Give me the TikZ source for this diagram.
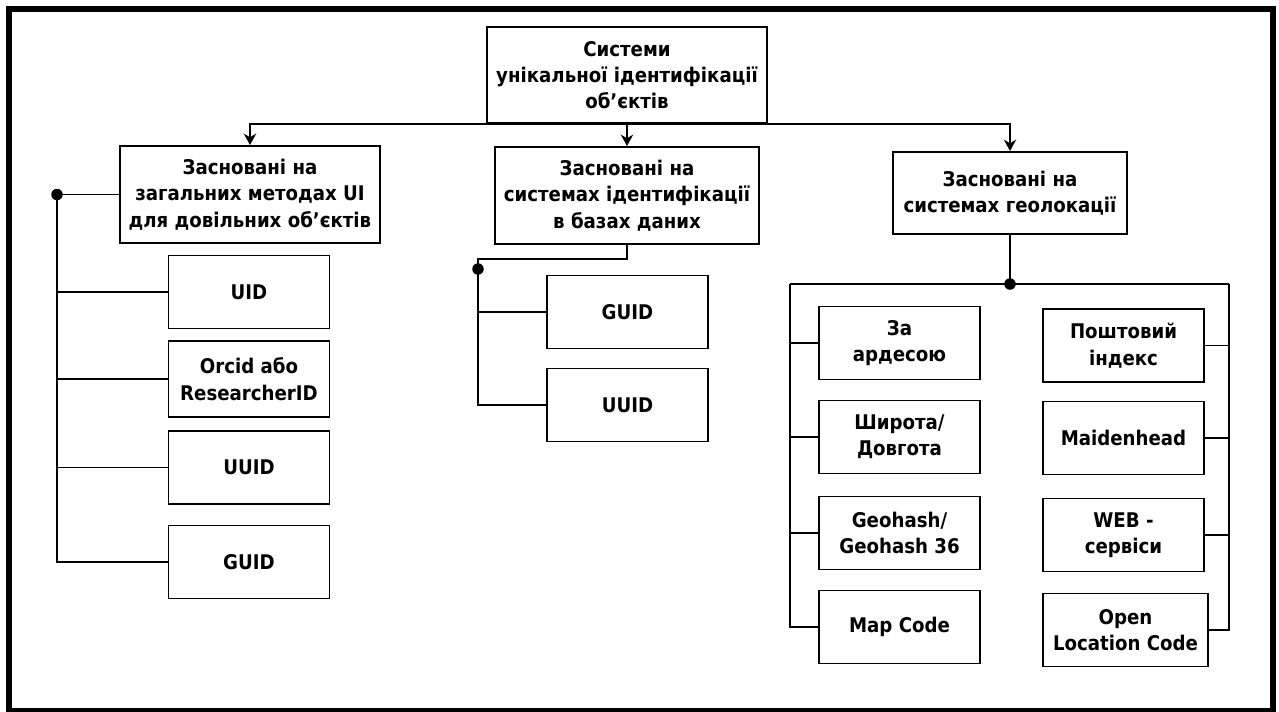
\documentclass[tikz,border=0pt]{standalone}
\usepackage{fontspec}
\setmainfont{DejaVu Sans Condensed}
\usetikzlibrary{arrows.meta,positioning}
\tikzset{>={Stealth[length=6.5pt,width=7pt]}}
\tikzset{
  blok/.style={draw,line width=1.1pt,align=center,inner sep=0pt,
    font=\bfseries\fontsize{11.5}{15}\selectfont},
  kid/.style={blok,minimum width=3.22cm,minimum height=1.46cm},
  vuzol/.style={circle,fill,inner sep=0pt,minimum size=0.23cm}
}

\begin{document}
\begin{tikzpicture}[x=0.02cm,y=-0.02cm,line width=1.1pt]
		\useasboundingbox (0,0) rectangle (1279,711);
		\draw [line width=3.4pt] (9,9) rectangle (1273,711);
		% top level
		\node [blok,minimum width=5.6cm,minimum height=1.92cm] (sys) at (627,75) {Системи\\унікальної ідентифікації\\об’єктів};
		\node [blok,minimum width=5.2cm,minimum height=1.94cm] (zag) at (250,194.5) {Засновані на\\загальних методах UI\\для довільних об’єктів};
		\node [blok,minimum width=5.28cm,minimum height=1.94cm] (baz) at (627,195.5) {Засновані на\\системах ідентифікації\\в базах даних};
		\node [blok,minimum width=4.68cm,minimum height=1.64cm] (geo) at (1010,193) {Засновані на\\системах геолокації};
		\draw [->] (sys.south) -| (zag.north);
		\draw [->] (sys.south) -- (baz.north);
		\draw [->] (sys.south) -| (geo.north);
		% general methods
		\node [kid] (uid) at (249,292) {UID};
		\node [kid,minimum height=1.52cm] (orcid) at (249,379) {Orcid або\\ResearcherID};
		\node [kid] (uuida) at (249,467.5) {UUID};
		\node [kid] (guida) at (249,562) {GUID};
		\node [vuzol] (zagdot) at (57,194.5) {};
		\draw (zag.west) -- (zagdot.center) |- (guida.west);
		\draw (zagdot.center) |- (uid.west);
		\draw (zagdot.center) |- (orcid.west);
		\draw (zagdot.center) |- (uuida.west);
		% databases
		\node [kid] (guidb) at (627.5,312) {GUID};
		\node [kid] (uuidb) at (627.5,405) {UUID};
		\coordinate (bazkut) at (478,259);
		\node [vuzol] (bazdot) at (478,269) {};
		\draw (baz.south) |- (bazkut) |- (uuidb.west);
		\draw (bazkut) |- (guidb.west);
		% geolocation
		\node [kid] (addr) at (899.5,343) {За\\ардесою};
		\node [kid] (shyr) at (899.5,437) {Широта/\\Довгота};
		\node [kid] (geoh) at (899.5,533) {Geohash/\\Geohash 36};
		\node [kid] (mapc) at (899.5,627) {Map Code};
		\node [kid] (post) at (1123.5,345.5) {Поштовий\\індекс};
		\node [kid] (maid) at (1123.5,438) {Maidenhead};
		\node [kid] (web) at (1123.5,535) {WEB -\\сервіси};
		\node [kid,minimum width=3.3cm] (olc) at (1125.5,630) {Open\\Location Code};
		\node [vuzol] (geodot) at (1010,284) {};
		\coordinate (geol) at (790,284);
		\coordinate (geor) at (1229,284);
		\draw (geo.south) -- (geodot.center);
		\draw (geol) -- (geor);
		\draw (geol) |- (addr.west);
		\draw (geol) |- (shyr.west);
		\draw (geol) |- (geoh.west);
		\draw (geol) |- (mapc.west);
		\draw (geor) |- (post.east);
		\draw (geor) |- (maid.east);
		\draw (geor) |- (web.east);
		\draw (geor) |- (olc.east);
\end{tikzpicture}
\end{document}
